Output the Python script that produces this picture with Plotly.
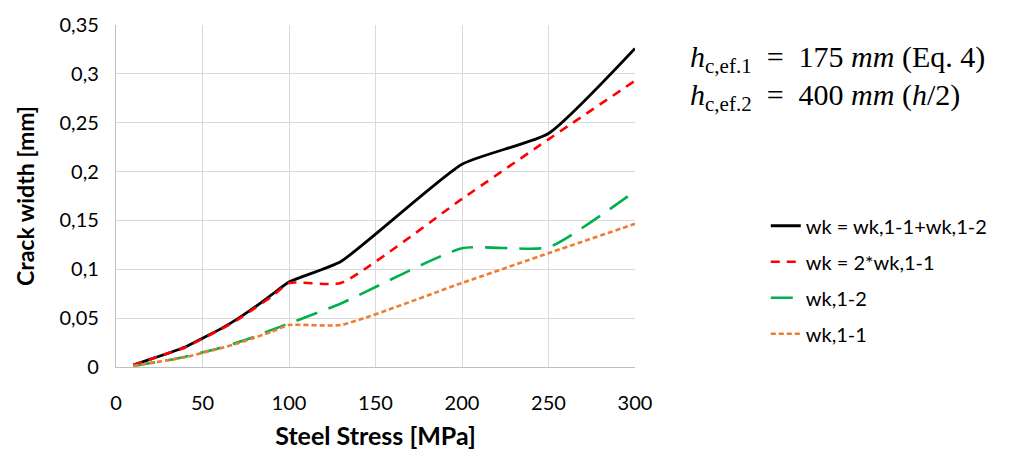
import plotly.graph_objects as go

# Steel stress [MPa]
stress = [10, 20, 30, 40, 50, 60, 70, 80, 90, 100, 130, 200, 250, 300]

# Crack widths [mm]
wk_sum = [0.002, 0.008, 0.014, 0.0205, 0.0295, 0.0385, 0.049, 0.061, 0.074, 0.087, 0.108, 0.2075, 0.239, 0.326]
wk_2x11 = [0.002, 0.008, 0.014, 0.020, 0.029, 0.038, 0.048, 0.060, 0.072, 0.086, 0.086, 0.172, 0.233, 0.293]
wk_12 = [0.001, 0.004, 0.007, 0.0105, 0.015, 0.0195, 0.025, 0.031, 0.038, 0.0445, 0.065, 0.1215, 0.1225, 0.180]
wk_11 = [0.001, 0.004, 0.007, 0.010, 0.0145, 0.019, 0.024, 0.030, 0.036, 0.043, 0.043, 0.086, 0.1165, 0.1465]

series_names = ["wk = wk,1-1+wk,1-2", "wk = 2*wk,1-1", "wk,1-2", "wk,1-1"]

y_ticks = [0, 0.05, 0.1, 0.15, 0.2, 0.25, 0.3, 0.35]
y_ticktext = ["0", "0,05", "0,1", "0,15", "0,2", "0,25", "0,3", "0,35"]
x_ticks = [0, 50, 100, 150, 200, 250, 300]

styles = [
    dict(color="#000000", width=2.8, dash="solid"),
    dict(color="#ff0000", width=2.6, dash="9px,7px"),
    dict(color="#00b050", width=2.6, dash="22px,12px"),
    dict(color="#ed7d31", width=2.6, dash="5px,3px"),
]

fig = go.Figure()
for i, (name, ys) in enumerate(zip(series_names, [wk_sum, wk_2x11, wk_12, wk_11])):
    fig.add_trace(go.Scatter(
        x=stress, y=ys, name=name, mode="lines",
        line=dict(shape="spline", smoothing=0.5, **styles[i]),
        legendgroup=f"g{i}",
    ))

fig.update_layout(
    width=1019, height=458,
    margin=dict(l=116, r=384, t=23, b=90),
    paper_bgcolor="white", plot_bgcolor="white",
    font=dict(family="Lato, sans-serif", size=20, color="#000000"),
    showlegend=True,
    legend=dict(
        x=1.252, y=0.47, xanchor="left", yanchor="top",
        font=dict(size=20), tracegroupgap=7,
        bgcolor="rgba(0,0,0,0)",
    ),
)

fig.update_xaxes(
    range=[0, 300], tickvals=x_ticks, ticktext=[str(v) for v in x_ticks],
    showgrid=True, gridcolor="#d9d9d9", gridwidth=1.3,
    showline=True, linecolor="#bfbfbf", linewidth=1.3,
    zeroline=False, ticks="", ticklen=0,
    tickfont=dict(size=20), ticklabelstandoff=18,
    title=dict(text="<b>Steel Stress [MPa]</b>", font=dict(size=25), standoff=14),
)
fig.update_yaxes(
    range=[0, 0.35], tickvals=y_ticks, ticktext=y_ticktext,
    showgrid=True, gridcolor="#d9d9d9", gridwidth=1.3,
    showline=True, linecolor="#bfbfbf", linewidth=1.3,
    zeroline=False, ticks="",
    tickfont=dict(size=20), ticklabelstandoff=12,
    title=dict(text="<b>Crack width [mm]</b>", font=dict(size=23), standoff=18),
)

eq_font = dict(family="Liberation Serif, DejaVu Serif, serif", size=30, color="#000000")
fig.add_annotation(
    xref="paper", yref="paper", x=1.103, y=0.9, xanchor="left", yanchor="middle",
    text="<i>h</i><sub>c,ef.1</sub>&nbsp; =&nbsp; 175&nbsp;<i>mm</i>&nbsp;(Eq. 4)",
    showarrow=False, font=eq_font,
)
fig.add_annotation(
    xref="paper", yref="paper", x=1.103, y=0.79, xanchor="left", yanchor="middle",
    text="<i>h</i><sub>c,ef.2</sub>&nbsp; =&nbsp; 400&nbsp;<i>mm</i>&nbsp;(<i>h</i>/2)",
    showarrow=False, font=eq_font,
)

fig.write_html("out.html")
